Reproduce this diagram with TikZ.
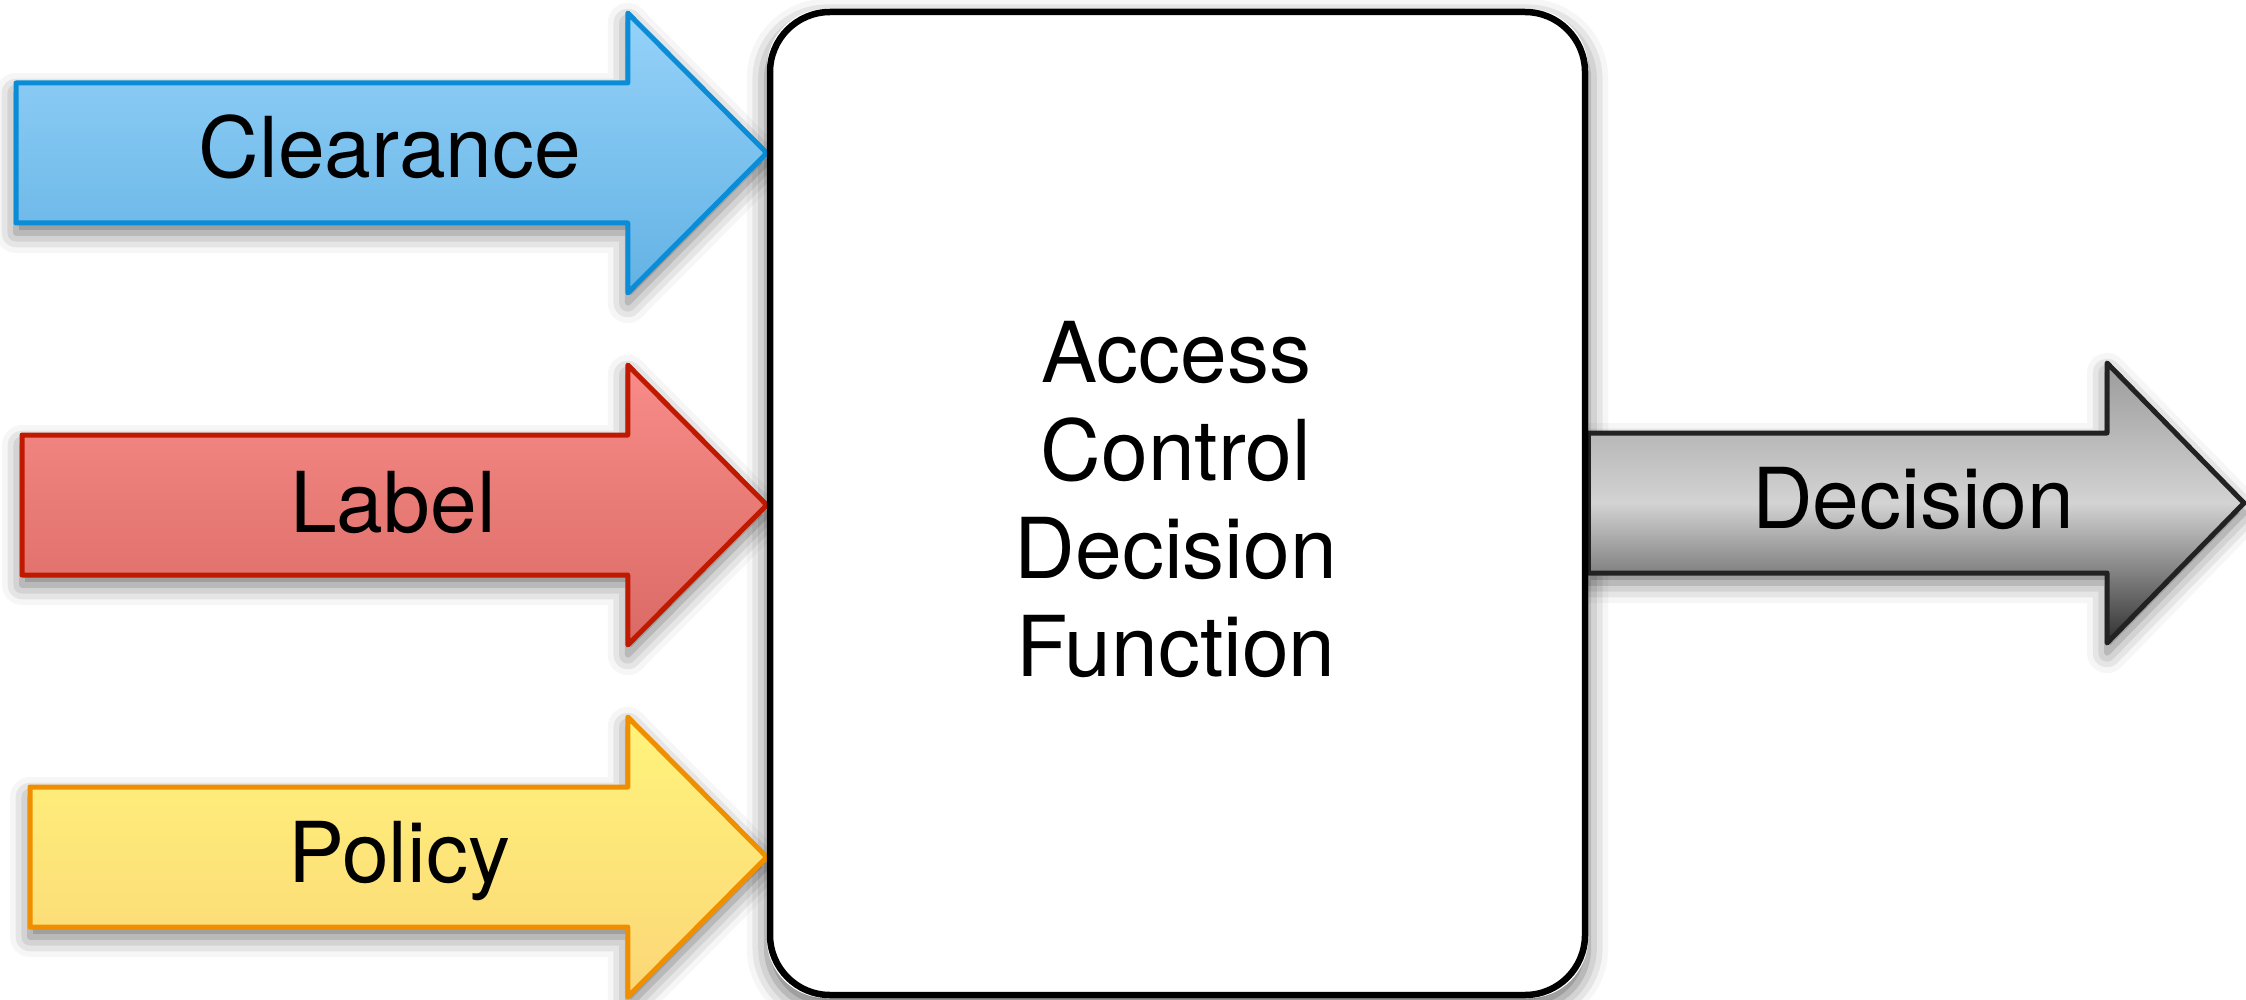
\documentclass[tikz,border=0pt]{standalone}
\usepackage{fontspec}
\setmainfont{TeX Gyre Heros}
\usetikzlibrary{calc,shadows.blur}

\pgfdeclarelayer{shadowlayer}
\pgfdeclarelayer{arrowlayer}
\pgfsetlayers{shadowlayer,arrowlayer,main}

% fills and outlines of the four block arrows
\definecolor{clrTop}{HTML}{95D2F9}
\definecolor{clrBot}{HTML}{63B2E4}
\definecolor{clrLine}{HTML}{0A8CD6}
\definecolor{lblTop}{HTML}{F88C88}
\definecolor{lblBot}{HTML}{DA6A66}
\definecolor{lblLine}{HTML}{BF1A00}
\definecolor{polTop}{HTML}{FFF47B}
\definecolor{polBot}{HTML}{FBD677}
\definecolor{polLine}{HTML}{EF8F00}
\definecolor{decTop}{HTML}{9B9B9B}
\definecolor{decMid}{HTML}{D3D3D3}
\definecolor{decBot}{HTML}{2F2F2F}
\definecolor{decLine}{HTML}{222222}

\newcommand\diagfont{\fontsize{42}{49}\selectfont}

% outline of a fat arrow: #1 tail point, #2 tip point, #3 head length
\newcommand\fatarrowpath[3]{let \p1=(#1), \p2=(#2) in
  (\x1,\y2+35pt) -- (\x2-#3,\y2+35pt) -- (\x2-#3,\y2+70pt) -- (\x2,\y2)
  -- (\x2-#3,\y2-70pt) -- (\x2-#3,\y2-35pt) -- (\x1,\y2-35pt) -- cycle}

\tikzset{
  arrowbase/.style={line width=2.5pt, line join=round},
  clearfill/.style={arrowbase, draw=clrLine, top color=clrTop, bottom color=clrBot},
  labelfill/.style={arrowbase, draw=lblLine, top color=lblTop, bottom color=lblBot},
  policyfill/.style={arrowbase, draw=polLine, top color=polTop, bottom color=polBot},
  decisionfill/.style={arrowbase, draw=decLine, top color=decTop, bottom color=decBot, middle color=decMid},
  shadowpass/.style={fill=white, blur shadow={shadow xshift=0pt, shadow yshift=-5pt,
      shadow blur radius=10pt, shadow opacity=55}},
  boxstyle/.style={draw=black, line width=3.25pt, fill=white, rounded corners=30pt,
      minimum width=407.5pt, minimum height=491.5pt, inner sep=0pt, align=center, font=\diagfont},
  arrowtext/.style={anchor=base, inner sep=0pt, font=\diagfont},
}

\begin{document}
\begin{tikzpicture}[x=0.5pt,y=-0.5pt]
\useasboundingbox (0,0) rectangle (2246,1000);

\node[boxstyle] (acdf) at (1177.5,503.5) {};
\node[align=center, inner sep=0pt, font=\diagfont] (acdftext) at (1176,500) {Access\\Control\\Decision\\Function};

\coordinate (tipC) at (acdf.west |- 0,153);
\coordinate (tipL) at (acdf.west |- 0,505);
\coordinate (tipP) at (acdf.west |- 0,857);
\coordinate (tailD) at (acdf.east |- 0,503);
\coordinate (tipD) at (2244,503);

\begin{pgfonlayer}{shadowlayer}
  \path[shadowpass, rounded corners=30pt] (acdf.south west) rectangle (acdf.north east);
  \path[shadowpass] \fatarrowpath{16,153}{tipC}{69.5pt};
  \path[shadowpass] \fatarrowpath{22,505}{tipL}{69.5pt};
  \path[shadowpass] \fatarrowpath{30,857}{tipP}{69.5pt};
  \path[shadowpass] \fatarrowpath{tailD}{tipD}{68.5pt};
\end{pgfonlayer}

\begin{pgfonlayer}{arrowlayer}
  \path[clearfill] \fatarrowpath{16,153}{tipC}{69.5pt};
  \path[labelfill] \fatarrowpath{22,505}{tipL}{69.5pt};
  \path[policyfill] \fatarrowpath{30,857}{tipP}{69.5pt};
  \path[decisionfill] \fatarrowpath{tailD}{tipD}{68.5pt};
\end{pgfonlayer}

\node[arrowtext] (clearance) at (390,178) {Clearance};
\node[arrowtext] (label) at (393,532) {Label};
\node[arrowtext] (policy) at (399,882) {Policy};
\node[arrowtext] (decision) at (1913,528) {Decision};
\end{tikzpicture}
\end{document}
